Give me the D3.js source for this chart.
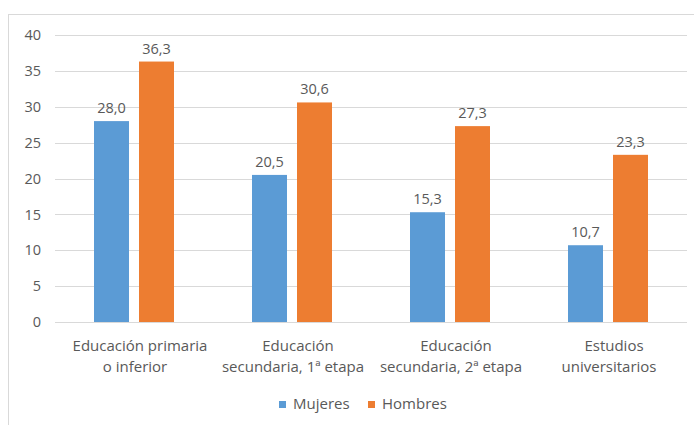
<!DOCTYPE html>
<html>
<head>
<meta charset="utf-8">
<script src="https://cdn.jsdelivr.net/npm/d3@7/dist/d3.min.js"></script>
<style>
  html, body { margin: 0; padding: 0; background: #fff; }
  svg { display: block; }
  text { font-family: "Open Sans", "Liberation Sans", sans-serif; fill: #595959; }
</style>
</head>
<body>
<svg id="chart" width="694" height="425"></svg>
<script>
// Nivel de estudios (cada categoría en dos renglones)
const categories = [
  ["Educación primaria", "o inferior"],
  ["Educación", "secundaria, 1ª etapa"],
  ["Educación", "secundaria, 2ª etapa"],
  ["Estudios", "universitarios"]
];
const seriesNames = ["Mujeres", "Hombres"];
const mujeres = [28.0, 20.5, 15.3, 10.7];
const hombres = [36.3, 30.6, 27.3, 23.3];
const yTicks = [0, 5, 10, 15, 20, 25, 30, 35, 40];
const colors = ["#5B9BD5", "#ED7D31"];

const svg = d3.select("#chart");
const margin = { left: 55, right: 7, top: 35, bottom: 103 };
const W = 694, H = 425;

// Marco exterior del gráfico
svg.append("rect")
  .attr("x", 8.5).attr("y", 14.5)
  .attr("width", W + 10).attr("height", H + 10)
  .attr("fill", "none").attr("stroke", "#D9D9D9").attr("stroke-width", 1);

const x = d3.scaleBand()
  .domain(d3.range(categories.length))
  .range([margin.left, W - margin.right])
  .paddingInner(0).paddingOuter(0);

const y = d3.scaleLinear().domain([0, 40]).range([H - margin.bottom, margin.top]);

// Líneas de cuadrícula horizontales
svg.append("g").selectAll("line").data(yTicks).join("line")
  .attr("x1", margin.left).attr("x2", W - margin.right)
  .attr("y1", d => Math.round(y(d)) + 0.5).attr("y2", d => Math.round(y(d)) + 0.5)
  .attr("stroke", "#D9D9D9").attr("stroke-width", 1);

// Etiquetas del eje Y
const yAxis = d3.axisLeft(y).tickValues(yTicks).tickSize(0).tickPadding(0);
const gy = svg.append("g").attr("transform", `translate(${margin.left - 14},0)`).call(yAxis);
gy.select(".domain").remove();
gy.selectAll("text").style("font-size", "14.5px").attr("fill", "#595959")
  .style("font-family", "\"Open Sans\", sans-serif");

// Posición de cada serie dentro del grupo
const barW = 35, gap = 10;
const offsets = [-(gap / 2 + barW), gap / 2];
const series = [mujeres, hombres];

series.forEach((vals, si) => {
  const g = svg.append("g");
  g.selectAll("rect").data(vals).join("rect")
    .attr("x", (d, i) => x(i) + x.bandwidth() / 2 + offsets[si])
    .attr("y", d => y(d))
    .attr("width", barW)
    .attr("height", d => y(0) - y(d))
    .attr("fill", colors[si]);
  g.selectAll("text").data(vals).join("text")
    .attr("x", (d, i) => x(i) + x.bandwidth() / 2 + offsets[si] + barW / 2)
    .attr("y", d => y(d) - 8)
    .attr("text-anchor", "middle")
    .style("font-size", "14.5px")
    .text(d => d.toFixed(1).replace(".", ","));
});

// Etiquetas de categoría (el primer renglón queda algo desplazado a la derecha)
const lineShift = [6, 1];
const gx = svg.append("g");
categories.forEach((lines, i) => {
  const t = gx.append("text")
    .attr("text-anchor", "middle")
    .style("font-size", "15px");
  lines.forEach((ln, k) => {
    t.append("tspan")
      .attr("x", x(i) + x.bandwidth() / 2 + lineShift[k])
      .attr("y", 351 + k * 21)
      .text(ln);
  });
});

// Leyenda
const legend = svg.append("g");
const legendItems = [
  { name: seriesNames[0], color: colors[0], x: 279 },
  { name: seriesNames[1], color: colors[1], x: 368 }
];
legendItems.forEach(it => {
  legend.append("rect").attr("x", it.x).attr("y", 401).attr("width", 7).attr("height", 7).attr("fill", it.color);
  legend.append("text").attr("x", it.x + 14).attr("y", 409).style("font-size", "15px").text(it.name);
});
</script>
</body>
</html>
